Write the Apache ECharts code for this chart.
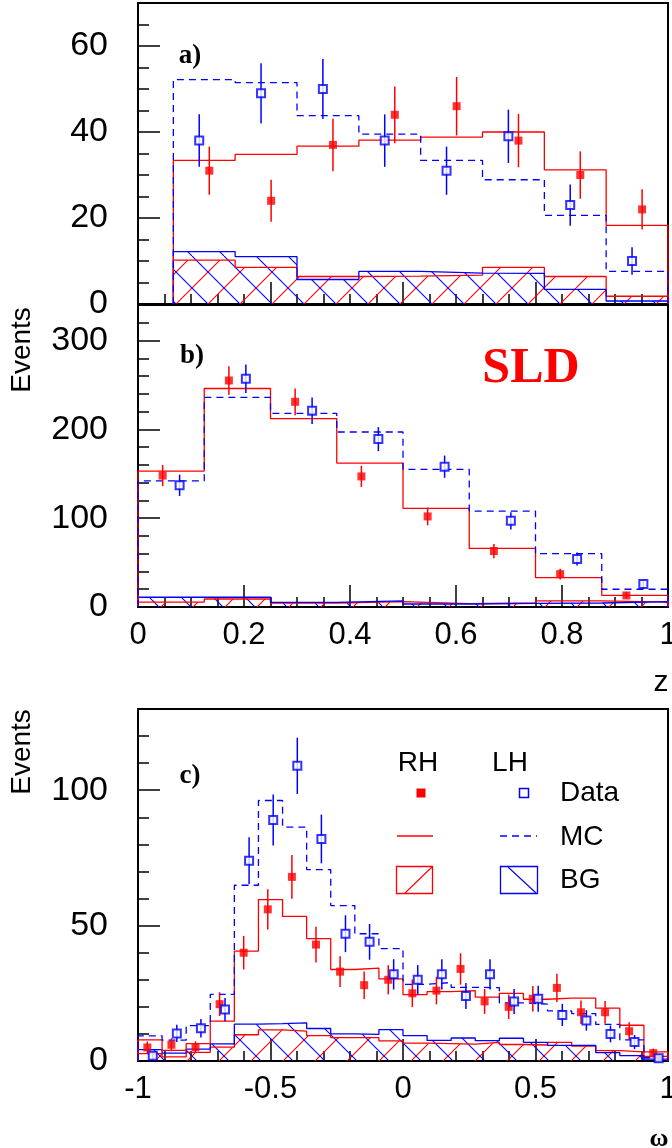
<!DOCTYPE html>
<html><head><meta charset="utf-8">
<script src="https://cdn.jsdelivr.net/npm/echarts@6/dist/echarts.min.js"></script>
<style>html,body{margin:0;padding:0;background:#fff}#c{width:672px;height:1148px}</style>
</head><body><div id="c"></div>
<script>
// ---------- Panel a) : z distribution, low statistics ----------
const aEdges = [0.0667, 0.1833, 0.3, 0.4167, 0.5333, 0.65, 0.7667, 0.8833, 1.0];
const aDataRH = [31, 24, 37, 44, 46, 38, 30, 22];
const aErrRH  = [5.6, 4.9, 6.1, 6.6, 6.8, 6.2, 5.5, 4.7];
const aDataLH = [38, 49, 50, 38, 31, 39, 23, 10];
const aErrLH  = [6.1, 7.0, 7.0, 6.1, 5.6, 6.2, 4.8, 3.2];
const aMcRH = [33.4, 34.8, 36.7, 38.1, 38.8, 40.0, 31.2, 18.3];
const aMcLH = [52.2, 51.5, 43.8, 39.5, 33.4, 28.9, 20.6, 7.6];
const aBgRH = [10.2, 8.5, 6.4, 6.5, 6.7, 8.5, 6.4, 1.8];
const aBgLH = [12.2, 11.0, 5.7, 7.6, 7.2, 7.1, 3.4, 0.7];

// ---------- Panel b) : z distribution ----------
const bEdges = [0, 0.125, 0.25, 0.375, 0.5, 0.625, 0.75, 0.875, 1.0];
const bDataRH = [148, 255, 231, 147, 102, 63, 37, 13];
const bErrRH  = [12, 16, 15, 12, 10, 8, 6, 3.6];
const bDataLH = [137, 257, 221, 189, 158, 97, 54, 26];
const bErrLH  = [12, 16, 15, 13.5, 12.5, 9.8, 7.3, 5.1];
const bMcRH = [153, 246, 212, 162, 111, 66, 33, 13];
const bMcLH = [142, 236, 218, 197, 155, 108, 60, 20];
const bBgRH = [5.6, 9, 4.5, 6, 3.8, 4.5, 6.8, 5.6];
const bBgLH = [11, 11, 5.3, 6.8, 3.4, 4.1, 4.5, 6];

// ---------- Panel c) : omega distribution ----------
const cEdges = [-1, -0.9091, -0.8182, -0.7273, -0.6364, -0.5455, -0.4545, -0.3636, -0.2727, -0.1818, -0.0909, 0,
                0.0909, 0.1818, 0.2727, 0.3636, 0.4545, 0.5455, 0.6364, 0.7273, 0.8182, 0.9091, 1];
const cDataRH = [5.0, 6.0, 5.1, 21, 40, 56, 68, 43, 33, 28, 30, 25, 26, 34, 22, 20, 23, 27, 18, 18, 11, 2.9];
const cErrRH  = [2.2, 2.4, 2.2, 4.4, 6.2, 7.4, 8.1, 6.6, 5.7, 5.1, 5.4, 5.1, 5.1, 5.8, 4.6, 4.5, 4.7, 5.2, 4.3, 4.2, 3.3, 1.7];
const cDataLH = [1.9, 10.2, 12.1, 19, 74, 89, 109, 82, 47, 44, 32, 30, 32, 24, 32, 22, 23, 17, 15, 10, 7, 1];
const cErrLH  = [1.4, 3.2, 3.4, 4.3, 8.6, 9.4, 10.4, 9.0, 6.8, 6.6, 5.6, 5.4, 5.6, 4.8, 5.6, 4.6, 4.8, 4.1, 3.8, 3.1, 2.6, 1.0];
const cMcRH = [7.8, 3.9, 6.4, 14.7, 40.6, 59.6, 53.4, 45.2, 33.8, 34.3, 30.3, 24.5, 25.6, 26, 23.6, 25, 22.8, 23.2, 23.2, 19.5, 13.2, 3.4];
const cMcLH = [9.3, 7.7, 13.1, 24.6, 64.9, 96.2, 86.4, 70.7, 57.4, 47, 41.5, 28.3, 29, 27.2, 27.1, 21.5, 21, 18.5, 17.5, 13.5, 7.8, 1.2];
const cBgRH = [2.7, 1.5, 3.2, 5.1, 9.7, 11.5, 11.0, 9.4, 8.6, 8.6, 7.4, 6.6, 6.4, 6.2, 6.9, 6.1, 5.9, 6.9, 5.5, 3.8, 3.4, 1.7];
const cBgLH = [4.2, 2.9, 4.4, 6.3, 13.6, 13.8, 14.1, 12.0, 10.0, 9.8, 11.6, 9.4, 7.6, 8.5, 7.5, 8.4, 6.9, 5.8, 5.8, 3.1, 2.0, 0.7];

// axis settings (ranges / tick steps)
const aY = {max: 70, major: 20, minor: 5};
const bY = {max: 340, major: 100, minor: 20};
const cY = {max: 130, major: 50, minor: 10};

const RED = '#ff0000', BLUE = '#0000ff';

function hatch(color, dir) {
  const s = 32, cv = document.createElement('canvas');
  cv.width = s; cv.height = s;
  const ctx = cv.getContext('2d');
  ctx.strokeStyle = color; ctx.lineWidth = 1.1;
  for (const k of [-s, 0, s]) {
    ctx.beginPath();
    if (dir > 0) { ctx.moveTo(k, s); ctx.lineTo(k + s, 0); }
    else { ctx.moveTo(k, 0); ctx.lineTo(k + s, s); }
    ctx.stroke();
  }
  return {image: cv, repeat: 'repeat'};
}
const hatchRed = hatch(RED, 1), hatchBlue = hatch(BLUE, -1);

function histPts(edges, vals) {
  const p = [[edges[0], 0]];
  for (let i = 0; i < vals.length; i++) p.push([edges[i], vals[i]]);
  p.push([edges[edges.length - 1], vals[vals.length - 1]]);
  p.push([edges[edges.length - 1], 0]);
  return p;
}
function centers(edges, off) {
  const c = [];
  for (let i = 0; i < edges.length - 1; i++) c.push((edges[i] + edges[i + 1]) / 2 + off);
  return c;
}

const series = [];
function addPanel(g, edges, dRH, eRH, dLH, eLH, mRH, mLH, bgRH, bgLH, offRH, offLH) {
  const xi = g * 2, yi = g * 2;
  series.push({type: 'line', step: 'end', xAxisIndex: xi, yAxisIndex: yi, data: histPts(edges, bgRH),
    symbol: 'none', lineStyle: {color: RED, width: 1.3}, areaStyle: {color: hatchRed, opacity: 1}, z: 2, silent: true});
  series.push({type: 'line', step: 'end', xAxisIndex: xi, yAxisIndex: yi, data: histPts(edges, bgLH),
    symbol: 'none', lineStyle: {color: BLUE, width: 1.3}, areaStyle: {color: hatchBlue, opacity: 1}, z: 2, silent: true});
  series.push({type: 'line', step: 'end', xAxisIndex: xi, yAxisIndex: yi, data: histPts(edges, mRH),
    symbol: 'none', lineStyle: {color: RED, width: 1.3}, z: 3, silent: true});
  series.push({type: 'line', step: 'end', xAxisIndex: xi, yAxisIndex: yi, data: histPts(edges, mLH),
    symbol: 'none', lineStyle: {color: BLUE, width: 1.3, type: [7, 5]}, z: 3, silent: true});
  const cr = centers(edges, offRH), cl = centers(edges, offLH);
  const err = (color, xs, ys, es) => ({type: 'custom', xAxisIndex: xi, yAxisIndex: yi,
    data: xs.map((x, i) => [x, ys[i], es[i]]), encode: {x: 0, y: 1}, z: 4, silent: true,
    renderItem: (params, api) => {
      const x = api.value(0), y = api.value(1), e = api.value(2);
      const p1 = api.coord([x, y - e]), p2 = api.coord([x, y + e]);
      return {type: 'line', shape: {x1: p1[0], y1: p1[1], x2: p2[0], y2: p2[1]}, style: {stroke: color, lineWidth: 1.5}};
    }});
  series.push(err(RED, cr, dRH, eRH));
  series.push(err(BLUE, cl, dLH, eLH));
  series.push({type: 'scatter', xAxisIndex: xi, yAxisIndex: yi, data: cr.map((x, i) => [x, dRH[i]]),
    symbol: 'rect', symbolSize: 8, itemStyle: {color: RED}, z: 5, silent: true});
  series.push({type: 'scatter', xAxisIndex: xi, yAxisIndex: yi, data: cl.map((x, i) => [x, dLH[i]]),
    symbol: 'emptyRect', symbolSize: 8, itemStyle: {color: BLUE, borderWidth: 1.5}, z: 5, silent: true});
}
addPanel(0, aEdges, aDataRH, aErrRH, aDataLH, aErrLH, aMcRH, aMcLH, aBgRH, aBgLH, 0.0095, -0.0095);
addPanel(1, bEdges, bDataRH, bErrRH, bDataLH, bErrLH, bMcRH, bMcLH, bBgRH, bBgLH, -0.016, 0.016);
addPanel(2, cEdges, cDataRH, cErrRH, cDataLH, cErrLH, cMcRH, cMcLH, cBgRH, cBgLH, -0.0102, 0.0102);

const tickStyle = {color: '#000', width: 1.5};
const lblFont = {color: '#000', fontFamily: 'Liberation Sans', fontSize: 31};
function xAxes(g, min, max, major, minor, labels) {
  return [
    {type: 'value', gridIndex: g, min, max, interval: major, position: 'bottom', offset: 0,
     axisLine: {show: true, onZero: false, lineStyle: {color: '#000', width: 2}},
     axisTick: {show: true, inside: true, length: 22, lineStyle: tickStyle},
     axisLabel: labels ? Object.assign({show: true, margin: 13}, lblFont) : {show: false},
     splitLine: {show: false}},
    {type: 'value', gridIndex: g, min, max, interval: minor, position: 'bottom', offset: 0,
     axisLine: {show: false, onZero: false}, axisTick: {show: true, inside: true, length: 10, lineStyle: tickStyle},
     axisLabel: {show: false}, splitLine: {show: false}}
  ];
}
function yAxes(g, ax) {
  return [
    {type: 'value', gridIndex: g, min: 0, max: ax.max, interval: ax.major, position: 'left', offset: 0,
     axisLine: {show: true, onZero: false, lineStyle: {color: '#000', width: 2}},
     axisTick: {show: true, inside: true, length: 22, lineStyle: tickStyle},
     axisLabel: {show: true, margin: 30, fontSize: 34, color: '#000', fontFamily: 'Liberation Sans',
       formatter: v => (Math.abs(v % ax.major) < 1e-9 ? String(v) : '')},
     splitLine: {show: false}},
    {type: 'value', gridIndex: g, min: 0, max: ax.max, interval: ax.minor, position: 'left', offset: 0,
     axisLine: {show: false, onZero: false}, axisTick: {show: true, inside: true, length: 11, lineStyle: tickStyle},
     axisLabel: {show: false}, splitLine: {show: false}}
  ];
}

const txt = (x, y, text, font, extra) => Object.assign({type: 'text', x, y, z: 100,
  style: Object.assign({text, font, fill: '#000', align: 'center', verticalAlign: 'middle'}, extra || {})});

const graphic = [
  txt(22, 350, 'Events', '28px "Liberation Sans"', {}),
  txt(22, 752, 'Events', '28px "Liberation Sans"', {}),
  txt(661, 683, 'z', '30px "Liberation Sans"'),
  txt(659, 1139, 'ω', 'bold 26px "Liberation Serif"'),
  txt(190, 56, 'a)', 'bold 27px "Liberation Serif"'),
  txt(192, 356, 'b)', 'bold 27px "Liberation Serif"'),
  txt(190, 776, 'c)', 'bold 27px "Liberation Serif"'),
  txt(531, 369, 'SLD', 'bold 50px "Liberation Serif"', {fill: RED}),
  txt(418, 763, 'RH', '28px "Liberation Sans"'),
  txt(510, 763, 'LH', '28px "Liberation Sans"'),
  txt(560, 793, 'Data', '28px "Liberation Sans"', {align: 'left'}),
  txt(560, 837, 'MC', '28px "Liberation Sans"', {align: 'left'}),
  txt(560, 880, 'BG', '28px "Liberation Sans"', {align: 'left'}),
  {type: 'rect', z: 100, shape: {x: 416.5, y: 788.5, width: 9, height: 9}, style: {fill: RED}},
  {type: 'rect', z: 100, shape: {x: 519.5, y: 788.5, width: 9, height: 9}, style: {fill: '#fff', stroke: BLUE, lineWidth: 1.5}},
  {type: 'line', z: 100, shape: {x1: 397, y1: 836, x2: 433, y2: 836}, style: {stroke: RED, lineWidth: 1.3}},
  {type: 'line', z: 100, shape: {x1: 500, y1: 836, x2: 537, y2: 836}, style: {stroke: BLUE, lineWidth: 1.3, lineDash: [7, 5]}},
  {type: 'rect', z: 100, shape: {x: 396.5, y: 866.5, width: 36, height: 27}, style: {fill: 'none', stroke: RED, lineWidth: 1.3}},
  {type: 'line', z: 100, shape: {x1: 405, y1: 893, x2: 432, y2: 867}, style: {stroke: RED, lineWidth: 1.1}},
  {type: 'rect', z: 100, shape: {x: 500.5, y: 866.5, width: 37, height: 27}, style: {fill: 'none', stroke: BLUE, lineWidth: 1.3}},
  {type: 'line', z: 100, shape: {x1: 508, y1: 867, x2: 536, y2: 893}, style: {stroke: BLUE, lineWidth: 1.1}}
];
graphic[0].rotation = Math.PI / 2;
graphic[1].rotation = Math.PI / 2;

const gridBase = {left: 138, width: 530, show: true, borderColor: '#000', borderWidth: 2,
  backgroundColor: 'transparent', outerBoundsMode: 'none', containLabel: false};
const option = {
  animation: false,
  backgroundColor: '#fff',
  grid: [
    Object.assign({top: 3, height: 301}, gridBase),
    Object.assign({top: 305, height: 302}, gridBase),
    Object.assign({top: 709, height: 352}, gridBase)
  ],
  xAxis: [].concat(xAxes(0, 0, 1, 0.25, 0.05, false), xAxes(1, 0, 1, 0.2, 0.05, true), xAxes(2, -1, 1, 0.5, 0.1, true)),
  yAxis: [].concat(yAxes(0, aY), yAxes(1, bY), yAxes(2, cY)),
  series,
  graphic
};
const chart = echarts.init(document.getElementById('c'), null, {renderer: 'canvas'});
chart.setOption(option);
</script></body></html>
